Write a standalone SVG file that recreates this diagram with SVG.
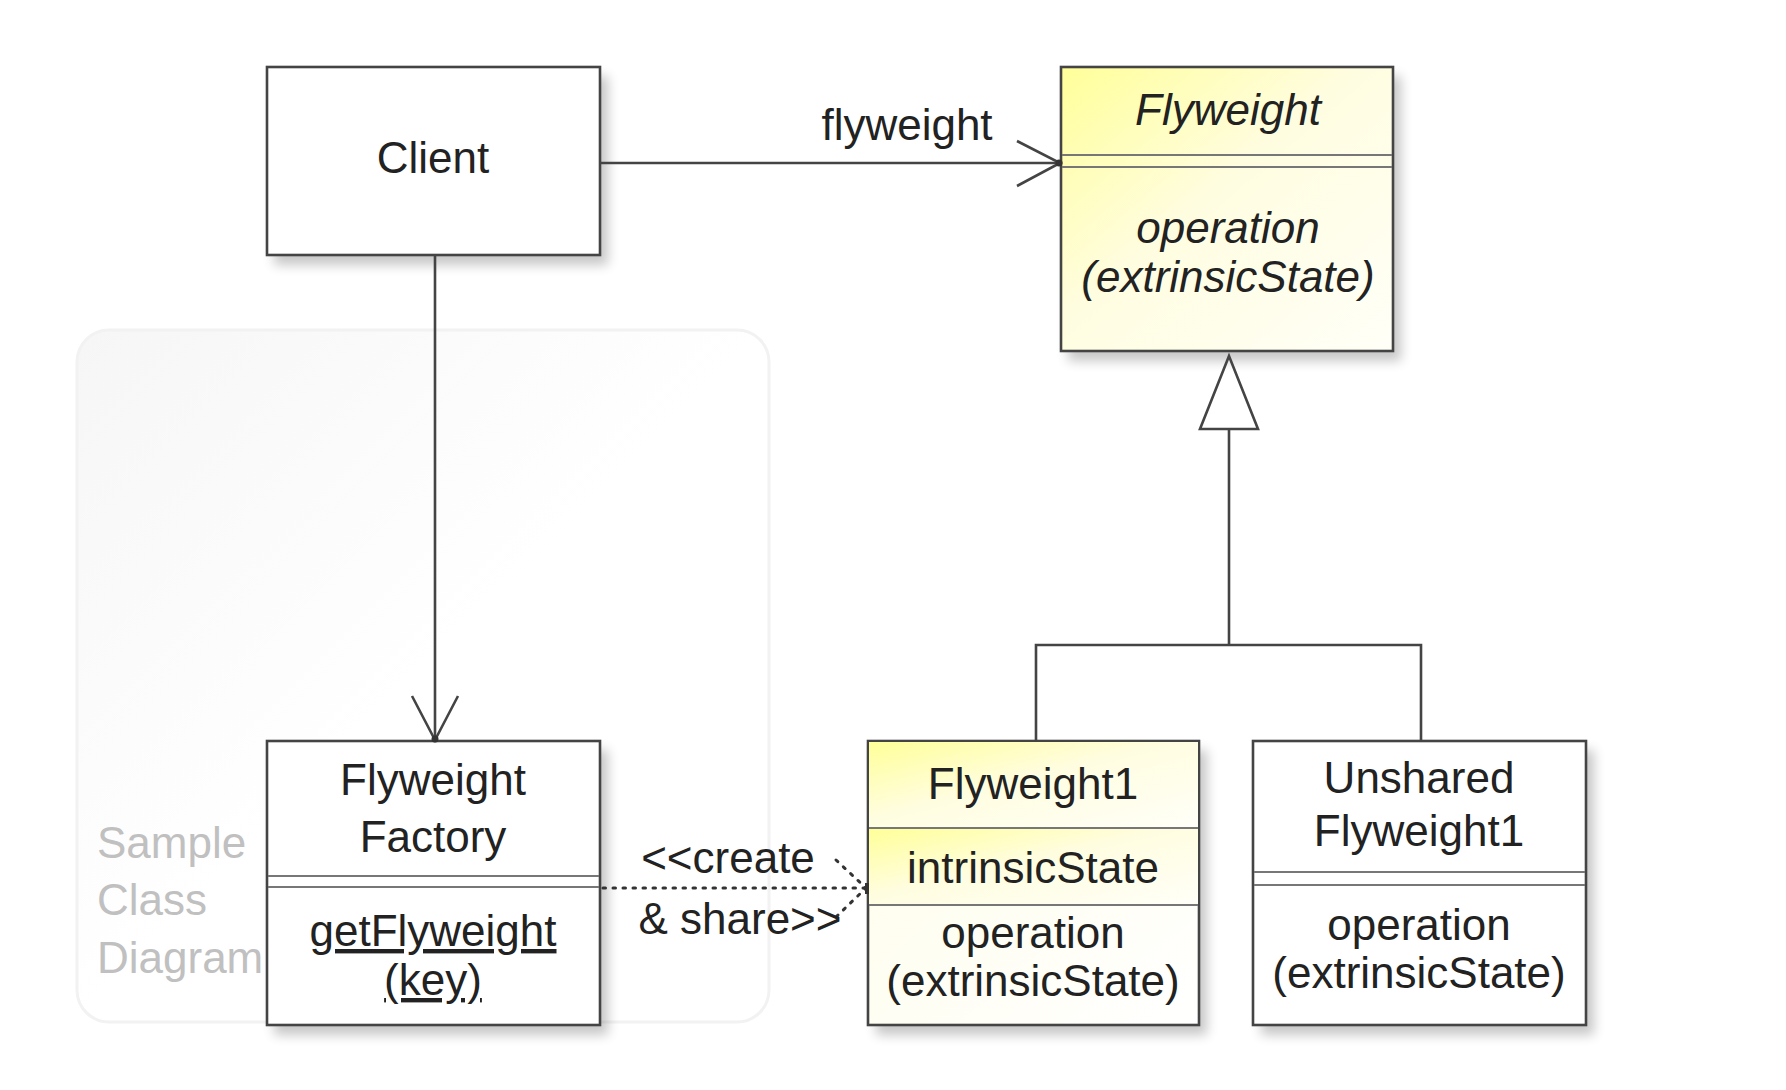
<svg xmlns="http://www.w3.org/2000/svg" width="1786" height="1090" viewBox="0 0 1786 1090">
<style>
text{font-family:"Liberation Sans","DejaVu Sans",sans-serif;font-size:44px;fill:#222;text-anchor:middle}
.it{font-style:italic}
.wm{fill:#c0c0c0;text-anchor:start}
.box{stroke:#444;stroke-width:2.6}
.div{stroke:#777;stroke-width:2}
.ln{fill:none;stroke:#444;stroke-width:2.6}
.dot{fill:none;stroke:#333;stroke-width:3;stroke-dasharray:2.5 7.5;stroke-linecap:round}
</style>
<defs>
<filter id="sh" x="-10%" y="-10%" width="130%" height="130%">
<feGaussianBlur stdDeviation="6"/>
</filter>
<linearGradient id="yl" x1="0" y1="0" x2="1" y2="1">
<stop offset="0" stop-color="#ffff99"/>
<stop offset="0.45" stop-color="#fffde0"/>
<stop offset="1" stop-color="#fffff8"/>
</linearGradient>
<linearGradient id="yl2" x1="0" y1="0" x2="1" y2="1">
<stop offset="0" stop-color="#fffde8"/>
<stop offset="1" stop-color="#ffffff"/>
</linearGradient>
<linearGradient id="wmg" x1="0" y1="0" x2="1" y2="1">
<stop offset="0" stop-color="#f6f6f6"/>
<stop offset="0.5" stop-color="#ffffff"/>
</linearGradient>
</defs>
<rect width="1786" height="1090" fill="#fff"/>
<g id="watermark">
<rect x="77" y="330" width="692" height="692" rx="32" fill="url(#wmg)" stroke="#f2f2f2" stroke-width="3"/>
<text class="wm" x="97" y="858">Sample</text>
<text class="wm" x="97" y="915">Class</text>
<text class="wm" x="97" y="973">Diagram</text>
</g>
<g id="shadows" fill="#000" opacity="0.22" filter="url(#sh)">
<rect x="274" y="76" width="334" height="189"/>
<rect x="1068" y="76" width="333" height="285"/>
<rect x="274" y="750" width="334" height="285"/>
<rect x="876" y="750" width="331" height="285"/>
<rect x="1261" y="750" width="333" height="285"/>
</g>
<g id="client">
<rect class="box" x="267" y="67" width="333" height="188" fill="#fff"/>
<text x="433" y="173" font-size="46">Client</text>
</g>
<g id="flyweight">
<rect class="box" x="1061" y="67" width="332" height="284" fill="url(#yl)"/>
<line class="div" x1="1062" y1="155" x2="1392" y2="155"/>
<line class="div" x1="1062" y1="167" x2="1392" y2="167"/>
<text class="it" x="1228" y="125">Flyweight</text>
<text class="it" x="1228" y="243">operation</text>
<text class="it" x="1228" y="292">(extrinsicState)</text>
</g>
<g id="factory">
<rect class="box" x="267" y="741" width="333" height="284" fill="#fff"/>
<line class="div" x1="268" y1="876" x2="599" y2="876"/>
<line class="div" x1="268" y1="887" x2="599" y2="887"/>
<text x="433" y="795">Flyweight</text>
<text x="433" y="852">Factory</text>
<text x="433" y="946" text-decoration="underline">getFlyweight</text>
<text x="433" y="995" text-decoration="underline">(key)</text>
</g>
<g id="flyweight1">
<rect class="box" x="868" y="741" width="331" height="284" fill="url(#yl2)"/>
<rect x="869" y="742" width="329" height="86" fill="url(#yl)"/>
<rect x="869" y="829" width="329" height="76" fill="url(#yl)"/>
<line class="div" x1="869" y1="828" x2="1198" y2="828"/>
<line class="div" x1="869" y1="905" x2="1198" y2="905"/>
<text x="1033" y="799">Flyweight1</text>
<text x="1033" y="883">intrinsicState</text>
<text x="1033" y="948">operation</text>
<text x="1033" y="996">(extrinsicState)</text>
</g>
<g id="unshared">
<rect class="box" x="1253" y="741" width="333" height="284" fill="#fff"/>
<line class="div" x1="1254" y1="872" x2="1585" y2="872"/>
<line class="div" x1="1254" y1="885" x2="1585" y2="885"/>
<text x="1419" y="793">Unshared</text>
<text x="1419" y="846">Flyweight1</text>
<text x="1419" y="940">operation</text>
<text x="1419" y="988">(extrinsicState)</text>
</g>
<g id="connectors">
<line class="ln" x1="600" y1="163" x2="1060" y2="163"/>
<polyline class="ln" points="1017,141 1060,163 1017,186"/>
<circle cx="1059" cy="163" r="3.5" fill="#333"/>
<text x="907" y="140">flyweight</text>
<line class="ln" x1="435" y1="255" x2="435" y2="740"/>
<polyline class="ln" points="412,696 435,740 458,696"/>
<circle cx="435" cy="739" r="3.5" fill="#333"/>
<line class="dot" x1="603" y1="888" x2="866" y2="888"/>
<polyline class="dot" points="836,860 866,888 836,917"/>
<rect x="865" y="883" width="4" height="11" fill="#333"/>
<text x="728" y="873">&lt;&lt;create</text>
<text x="740" y="934">&amp; share&gt;&gt;</text>
<line class="ln" x1="1229" y1="429" x2="1229" y2="645"/>
<polyline class="ln" points="1036,741 1036,645 1421,645 1421,741"/>
<polygon class="ln" points="1229,356 1200,429 1258,429" fill="#fff"/>
</g>
</svg>
